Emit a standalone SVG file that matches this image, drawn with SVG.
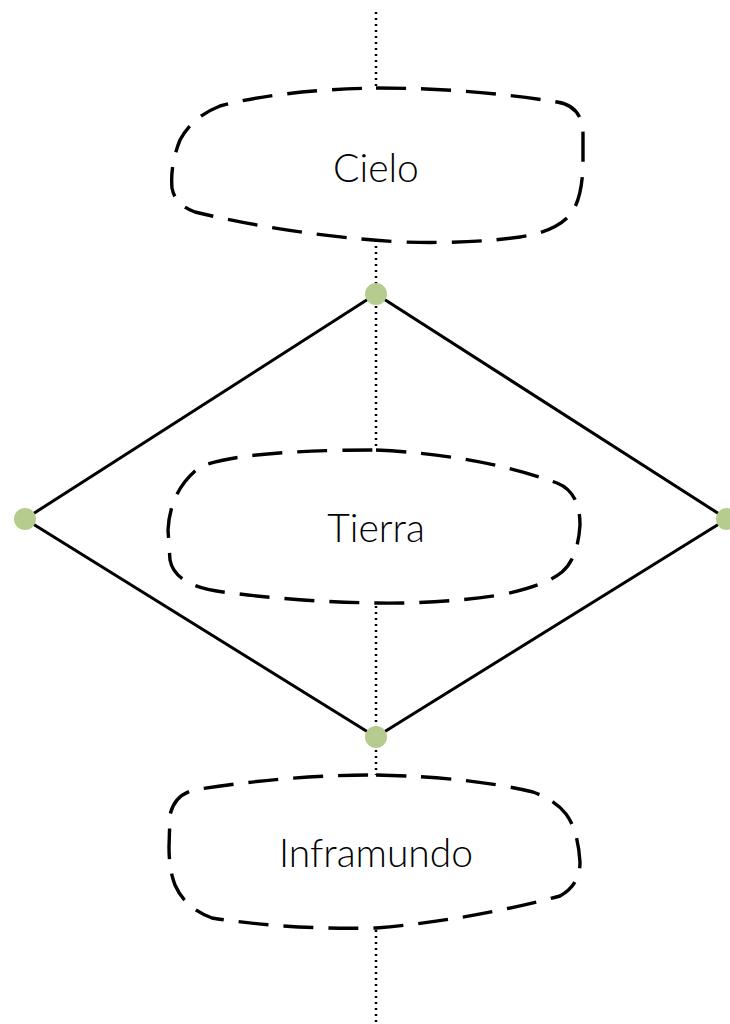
<svg xmlns="http://www.w3.org/2000/svg" width="730" height="1024" viewBox="0 0 730 1024">
<style>
.axis{fill:none;stroke:#000;stroke-width:2.5;stroke-dasharray:2 4}
.edge{fill:none;stroke:#000;stroke-width:3}
.node{fill:#fff;stroke:#000;stroke-width:3.4;stroke-dasharray:30 15;stroke-linecap:butt}
.dot{fill:#b5cc8e}
.lbl{font-family:Lato,"Noto Sans",sans-serif;font-weight:300;font-size:39px;fill:#000;text-anchor:middle}
</style>
<rect width="730" height="1024" fill="#fff"/>
<g id="connectors">
<line class="axis" x1="376" y1="12" x2="376" y2="1024"/>
<polygon class="edge" points="376,294 727,519 376,737 25,519"/>
</g>
<g id="cielo">
<path class="node" d="M376,88 Q470,88 557,102 Q583,106 583,135 L583,165 Q582,200 570,215 Q555,232 520,237 Q470,244 400,242 Q290,235 195,212 Q175,205 172,188 Q170,165 180,140 Q192,117 220,106 Q280,90 376,88 Z"/>
<text class="lbl" x="376" y="182">Cielo</text>
</g>
<g id="tierra">
<path class="node" d="M376,450 Q480,455 557,483 Q580,492 580,525 Q578,558 562,572 Q545,586 500,595 Q440,604 376,603 Q300,602 223,592 Q175,586 170,560 L168,530 Q170,490 200,467 Q240,450 376,450 Z"/>
<text class="lbl" x="376" y="542">Tierra</text>
</g>
<g id="inframundo">
<path class="node" d="M376,775 Q470,777 533,792 Q555,800 566,814 Q578,830 580,862 Q580,885 560,896 Q470,920 376,928 Q290,930 212,918 Q185,908 175,885 Q169,870 169,847 L170,815 Q175,792 200,789 Q290,775 376,775 Z"/>
<text class="lbl" x="376" y="867">Inframundo</text>
</g>
<g id="vertices">
<circle class="dot" cx="376" cy="294" r="11"/>
<circle class="dot" cx="25" cy="519" r="11"/>
<circle class="dot" cx="727" cy="519" r="11"/>
<circle class="dot" cx="376" cy="737" r="11"/>
</g>
</svg>
